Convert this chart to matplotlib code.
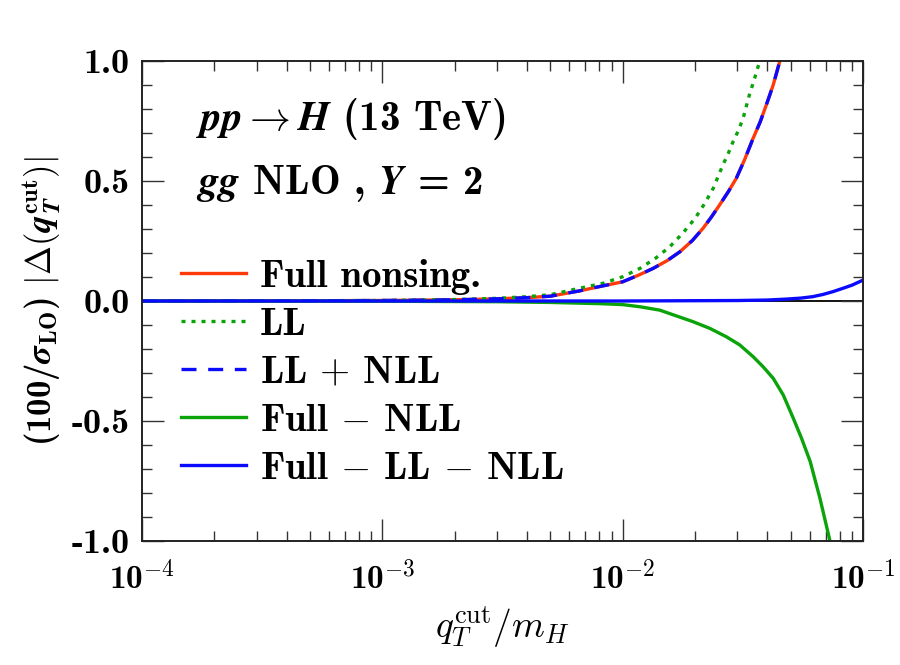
import numpy as np
import matplotlib
matplotlib.use("Agg")
import matplotlib.pyplot as plt

plt.rcParams['mathtext.fontset'] = 'cm'

# values (x = qT_cut / m_H)
x_full = [1e-4, 3e-4, 1e-3, 2e-3, 3e-3, 4e-3, 5e-3, 6.6e-3, 8e-3, 0.01, 0.0116, 0.0134,
          0.0153, 0.0173, 0.0195, 0.0216, 0.0234, 0.0253, 0.0275, 0.0297, 0.0322, 0.0349,
          0.0373, 0.0396, 0.0423, 0.045, 0.047]
full_nonsing = [0.0, 0.0003, 0.002, 0.005, 0.009, 0.014, 0.02, 0.042, 0.06, 0.08, 0.107, 0.136,
                0.168, 0.205, 0.252, 0.303, 0.35, 0.40, 0.455, 0.511, 0.59, 0.678,
                0.745, 0.817, 0.90, 0.997, 1.06]
ll_nll = list(full_nonsing)

x_ll = [1e-4, 3e-4, 1e-3, 2e-3, 3e-3, 4e-3, 5e-3, 6.6e-3, 8.3e-3, 0.01, 0.0118, 0.0137,
        0.0157, 0.0178, 0.020, 0.0219, 0.0238, 0.0261, 0.0275, 0.0288, 0.0303, 0.0317,
        0.0338, 0.0351, 0.0364, 0.0375]
ll = [0.0, 0.0004, 0.002, 0.006, 0.011, 0.018, 0.026, 0.053, 0.074, 0.101, 0.136, 0.178,
      0.226, 0.283, 0.344, 0.405, 0.469, 0.566, 0.615, 0.664, 0.71, 0.761,
      0.865, 0.915, 0.969, 1.01]

x_fmn = [1e-4, 1e-3, 3e-3, 5e-3, 8e-3, 0.01, 0.0118, 0.01426, 0.0196, 0.02304, 0.027, 0.0307,
         0.0349, 0.0384, 0.0423, 0.0466, 0.0513, 0.0555, 0.0603, 0.0662, 0.073, 0.075]
full_minus_nll = [0.0, -0.001, -0.003, -0.006, -0.011, -0.015, -0.024, -0.038, -0.086, -0.114,
                  -0.149, -0.183, -0.232, -0.274, -0.322, -0.392, -0.489, -0.572, -0.669,
                  -0.822, -1.003, -1.06]

x_fmlln = [1e-4, 1e-3, 0.01, 0.03, 0.04, 0.0481, 0.055, 0.0617, 0.068, 0.075, 0.082, 0.09, 0.1]
full_minus_ll_nll = [0.0, 0.0, 0.0, 0.002, 0.004, 0.008, 0.012, 0.018, 0.027, 0.039, 0.052,
                     0.066, 0.087]

xticks = [1e-4, 1e-3, 1e-2, 1e-1]
xtick_labels = ['10$^{\\mathbf{-4}}$', '10$^{\\mathbf{-3}}$', '10$^{\\mathbf{-2}}$', '10$^{\\mathbf{-1}}$']
yticks = [-1.0, -0.5, 0.0, 0.5, 1.0]
ytick_labels = ['-1.0', '-0.5', '0.0', '0.5', '1.0']

c_red = '#ff3a0a'
c_green = '#0aa30a'
c_blue = '#0a0aff'

fig = plt.figure(figsize=(9, 6.65), dpi=100)
ax = fig.add_axes([142 / 900, 1 - 541 / 665, 721 / 900, 480 / 665])

ax.axhline(0, color='black', lw=1.3, zorder=1)
ax.plot(x_full, full_nonsing, color=c_red, lw=2.4, label='Full nonsing.')
ax.plot(x_ll, ll, color=c_green, lw=2.4, dashes=(1.2, 1.8), label='LL')
ax.plot(x_full, ll_nll, color=c_blue, lw=2.4, dashes=(4.5, 3.5), label='LL $+$ NLL')
ax.plot(x_fmn, full_minus_nll, color=c_green, lw=2.4, label='Full $-$ NLL')
ax.plot(x_fmlln, full_minus_ll_nll, color=c_blue, lw=2.4, label='Full $-$ LL $-$ NLL')

ax.set_xscale('log')
ax.set_xlim(1e-4, 1e-1)
ax.set_ylim(-1, 1)

ax.set_xticks(xticks)
ax.set_xticklabels(xtick_labels, fontsize=24, family='cmb10')
ax.set_yticks(yticks)
ax.set_yticklabels(ytick_labels, fontsize=26, family='cmb10')
ax.yaxis.set_minor_locator(matplotlib.ticker.MultipleLocator(0.1))

ax.tick_params(which='both', direction='in', top=True, right=True, color='#333333', width=1.0)
ax.tick_params(which='major', length=16, pad=9)
ax.tick_params(which='minor', length=7.5)
ax.tick_params(axis='x', which='major', pad=14)
for sp in ax.spines.values():
    sp.set_linewidth(1.4)
    sp.set_color('#222222')

ax.set_xlabel(r'$q_T^{\rm cut}/m_H$', fontsize=27, labelpad=6)
ax.set_ylabel(r'(100/$\boldsymbol{\sigma}_{\mathbf{LO}}$) $|\Delta(\boldsymbol{q}_{\boldsymbol{T}}^{\mathbf{cut}})|$',
              fontsize=25, labelpad=6, family='cmb10')

ax.text(0.075, 0.88, r'$\boldsymbol{pp \to H}$ (13 TeV)', transform=ax.transAxes,
        fontsize=29.5, va='center', ha='left', family='cmb10')
ax.text(0.075, 0.745, r'$\boldsymbol{gg}$ NLO , $\boldsymbol{Y}$ = 2', transform=ax.transAxes,
        fontsize=29.5, va='center', ha='left', family='cmb10')

ax.legend(loc='upper left', bbox_to_anchor=(0.054, 0.588), frameon=False,
          prop={'family': 'cmb10', 'size': 28}, handlelength=1.67, labelspacing=0.33,
          handletextpad=0.36, borderpad=0.0, borderaxespad=0.0)

plt.savefig('out.png', dpi=100)
